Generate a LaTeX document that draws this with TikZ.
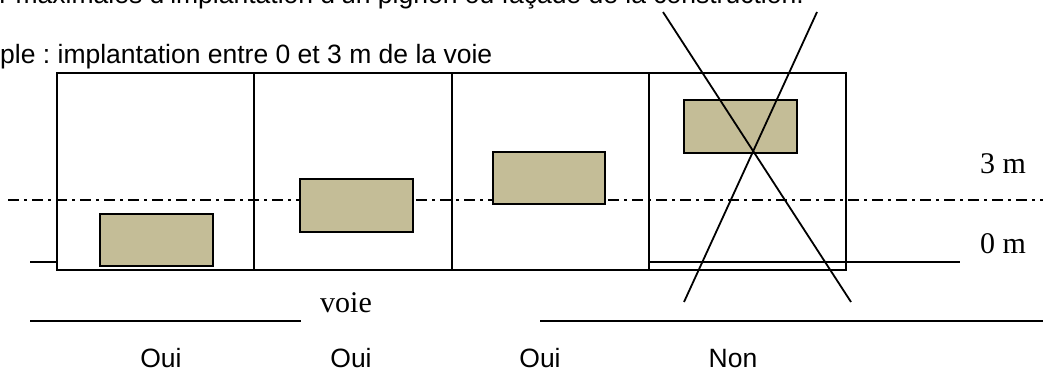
\documentclass[tikz,border=0pt]{standalone}
\usepackage{fontspec}
\setmainfont{Liberation Sans}
\newfontfamily\timesfont{Liberation Serif}
\definecolor{sable}{HTML}{C4BD97}
\frenchspacing
\begin{document}
\begin{tikzpicture}[x=1pt, y=-1pt,
		cadre/.style = {draw, line width=1.8pt},
		bat/.style = {draw, line width=1.8pt, fill=sable, inner sep=0pt, anchor=north west},
		axe/.style = {line width=1.8pt, dash pattern=on 11pt off 5pt on 3pt off 5pt},
		txt/.style = {inner sep=0pt, font=\fontsize{26.5}{30}\selectfont},
		mes/.style = {inner sep=0pt, font=\timesfont\fontsize{30}{34}\selectfont}]
		\useasboundingbox (0,0) rectangle (1043,372);
		% textes du haut
		\node[txt, anchor=base east] (titre) at (804,4) {r maximales d'implantation d'un pignon ou façade de la construction.};
		\node[txt, anchor=base west] (exemple) at (0,63) {ple : implantation entre 0 et 3 m de la voie};
		% limite des 3 m
		\draw[axe] (8,200) -- (1043,200);
		% limite 0 m
		\draw[cadre] (30,262) -- (57,262);
		\draw[cadre] (649,262) -- (960,262);
		% parcelles
		\draw[cadre] (57,73) rectangle (254,270);
		\draw[cadre] (254,73) rectangle (452,270);
		\draw[cadre] (452,73) rectangle (649,270);
		\draw[cadre] (649,73) rectangle (846,270);
		% constructions
		\node[bat, minimum width=113pt, minimum height=52pt] (bat1) at (99,213) {};
		\node[bat, minimum width=113pt, minimum height=53pt] (bat2) at (299,178) {};
		\node[bat, minimum width=112pt, minimum height=52pt] (bat3) at (492,151) {};
		\node[bat, minimum width=113pt, minimum height=53pt] (bat4) at (683,99) {};
		% croix
		\coordinate (c1) at (663,12);
		\coordinate (c2) at (851,302);
		\coordinate (c3) at (817,12);
		\coordinate (c4) at (684,302);
		\draw[cadre] (c1) -- (c2);
		\draw[cadre] (c3) -- (c4);
		% voie
		\coordinate (v1) at (30,321);
		\coordinate (v2) at (301,321);
		\coordinate (v3) at (540,321);
		\coordinate (v4) at (1043,321);
		\draw[cadre] (v1) -- (v2);
		\draw[cadre] (v3) -- (v4);
		\node[mes, anchor=base west] (voie) at (320,312) {voie};
		\node[mes, anchor=base west] (trois) at (980,173) {3 m};
		\node[mes, anchor=base west] (zero) at (980,253) {0 m};
		% reponses
		\node[txt, anchor=base] (oui1) at (161,367) {Oui};
		\node[txt, anchor=base] (oui2) at (351,367) {Oui};
		\node[txt, anchor=base] (oui3) at (540,367) {Oui};
		\node[txt, anchor=base] (non) at (733,367) {Non};
	\end{tikzpicture}
\end{document}
